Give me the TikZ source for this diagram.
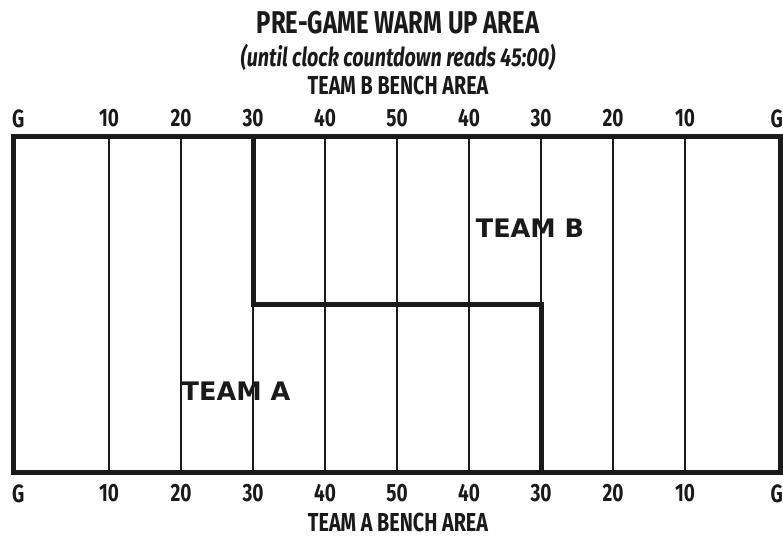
\documentclass[tikz,border=0pt]{standalone}
\usepackage{fontspec}
\setmainfont{Fira Sans}
\newfontfamily\condfont[FakeStretch=0.76]{Fira Sans}
\newfontfamily\teamfont{DejaVu Sans}
\usetikzlibrary{positioning}
\definecolor{FieldInk}{RGB}{26, 26, 26}
\tikzset{
    fieldedge/.style={
        line width=5pt,
        draw=FieldInk,
        line join=miter
    },
    yardline/.style={
        line width=2.5pt,
        draw=FieldInk
    },
    splitline/.style={
        line width=5pt,
        draw=FieldInk,
        line join=miter
    },
    % text styles
    titletext/.style={
        font=\condfont\bfseries\fontsize{31.5}{31.5}\selectfont,
        inner sep=0pt,
        text=FieldInk
    },
    subtext/.style={
        font=\condfont\bfseries\itshape\fontsize{26}{26}\selectfont,
        inner sep=0pt,
        text=FieldInk
    },
    benchtext/.style={
        font=\condfont\bfseries\fontsize{26}{26}\selectfont,
        inner sep=0pt,
        text=FieldInk
    },
    yardlabel/.style={
        font=\condfont\bfseries\fontsize{25}{25}\selectfont,
        inner sep=0pt,
        text=FieldInk
    },
    teamlabel/.style={
        font=\teamfont\bfseries\fontsize{25.5}{25.5}\selectfont,
        inner sep=0pt,
        text=FieldInk
    }
}

\begin{document}
\begin{tikzpicture}[x=1pt, y=-1pt]
    \useasboundingbox (0,0) rectangle (783,538);
    % field outline corners
    \coordinate (nw) at (13.5,136.5);
    \coordinate (se) at (780.5,472.5);
    % yard lines
    \foreach \i in {0,...,8} {
        \pgfmathsetmacro{\xx}{109+72*\i}
        \coordinate (top\i) at (\xx,136.5);
        \coordinate (bot\i) at (\xx,472.5);
        \coordinate (mid\i) at (\xx,304.5);
    }
    \draw[yardline] (top0) -- (bot0);
    \draw[yardline] (top1) -- (bot1);
    \draw[yardline] (mid2) -- (bot2);
    \draw[yardline] (top3) -- (bot3);
    \draw[yardline] (top4) -- (bot4);
    \draw[yardline] (top5) -- (bot5);
    \draw[yardline] (top6) -- (mid6);
    \draw[yardline] (top7) -- (bot7);
    \draw[yardline] (top8) -- (bot8);
    % team B zone boundary
    \draw[splitline] (top2) -- (mid2) -- (mid6) -- (bot6);
    \draw[fieldedge] (nw) rectangle (se);

    % yard numbers
    \node[yardlabel, anchor=west] (tgl) at (12,118.5) {G};
    \node[yardlabel, anchor=east] (tgr) at (783,118.5) {G};
    \node[yardlabel, anchor=west] (bgl) at (12,493.5) {G};
    \node[yardlabel, anchor=east] (bgr) at (783,493.5) {G};
    \foreach \n [count=\i from 0] in {10,20,30,40,50,40,30,20,10} {
        \node[yardlabel] (tn\i) at (109+72*\i,118.5) {\n};
        \node[yardlabel] (bn\i) at (109+72*\i,493.5) {\n};
    }

    % headings
    \node[titletext] (title) at (398,22.5) {PRE-GAME WARM UP AREA};
    \node[subtext] (until) at (398,57) {(until clock countdown reads 45:00)};
    \node[benchtext] (benchb) at (398,85) {TEAM B BENCH AREA};
    \node[benchtext] (bencha) at (398,522) {TEAM A BENCH AREA};

    % teams
    \node[teamlabel] (teamb) at (530,228) {TEAM B};
    \node[teamlabel] (teama) at (236,391) {TEAM A};
\end{tikzpicture}
\end{document}
